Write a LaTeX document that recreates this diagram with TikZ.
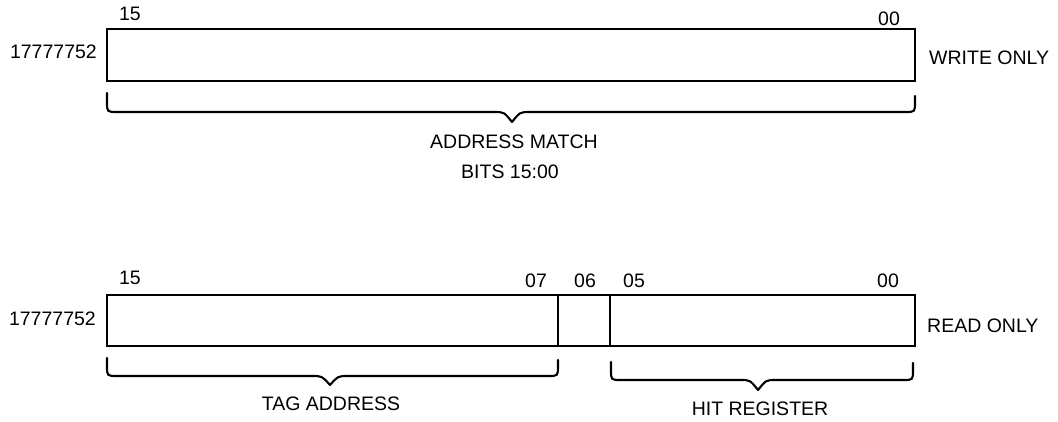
\documentclass[tikz,border=0pt]{standalone}
\usepackage{fontspec}
\setmainfont{Liberation Sans}
\begin{document}
\begin{tikzpicture}[x=1pt,y=-1pt,
  reg/.style={draw,line width=2.8pt},
  divline/.style={line width=2pt},
  lbl/.style={font=\fontsize{19.5}{22}\selectfont, inner sep=0pt},
  brc/.style={line width=2.1pt, line join=round, line cap=round}]
\useasboundingbox (0,0) rectangle (1058,421);

% ---------- top register ----------
\draw[reg] (107,29) rectangle (915,81);
\node[lbl, anchor=base] (t15) at (130,20) {15};
\node[lbl, anchor=base] (t00) at (889,25) {00};
\node[lbl, anchor=base east] (taddr) at (97,58) {17777752};
\node[lbl, anchor=base west] (twr) at (929,64) {WRITE ONLY};

% brace
\draw[brc] (107,93) -- (107,102) .. controls (107,112) .. (117,112)
  -- (494,112) .. controls (504,112) .. (512,122) .. controls (520,112) .. (530,112)
  -- (905,112) .. controls (915,112) .. (915,102) -- (915,96);
\node[lbl, anchor=base] (am) at (514,148) {ADDRESS MATCH};
\node[lbl, anchor=base] (bits) at (510,178) {BITS 15:00};

% ---------- bottom register ----------
\draw[reg] (107,295) rectangle (915,346);
\draw[divline] (558,295) -- (558,346);
\draw[divline] (610,295) -- (610,346);
\node[lbl, anchor=base] (b15) at (130,284) {15};
\node[lbl, anchor=base] (b07) at (536,287) {07};
\node[lbl, anchor=base] (b06) at (585,287) {06};
\node[lbl, anchor=base] (b05) at (634,287) {05};
\node[lbl, anchor=base] (b00) at (888,287) {00};
\node[lbl, anchor=base east] (baddr) at (96,325) {17777752};
\node[lbl, anchor=base west] (brd) at (927,332) {READ ONLY};

% braces
\draw[brc] (107,358) -- (107,366) .. controls (107,376) .. (117,376)
  -- (312,376) .. controls (322,376) .. (330,385) .. controls (338,376) .. (348,376)
  -- (548,376) .. controls (558,376) .. (558,366) -- (558,360);
\draw[brc] (611,362) -- (611,370) .. controls (611,380) .. (621,380)
  -- (740,380) .. controls (750,380) .. (758,390) .. controls (766,380) .. (776,380)
  -- (903,380) .. controls (913,380) .. (913,370) -- (913,363);
\node[lbl, anchor=base] (tag) at (331,410) {TAG ADDRESS};
\node[lbl, anchor=base] (hit) at (760,415) {HIT REGISTER};
\end{tikzpicture}
\end{document}
